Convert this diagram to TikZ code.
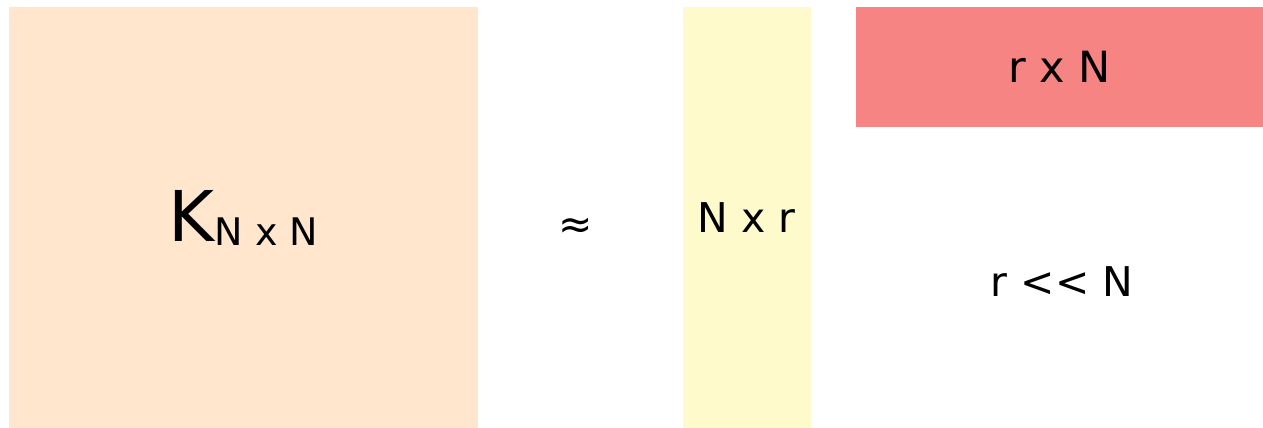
\documentclass[tikz,border=0pt]{standalone}
\usepackage{fontspec}
\setmainfont{DejaVu Sans}
\usepackage{tikz}
\usetikzlibrary{positioning}
\definecolor{peach}{HTML}{FFE6CC}
\definecolor{paleyellow}{HTML}{FFFACC}
\definecolor{salmon}{HTML}{F58482}
\newcommand{\bigtxt}{\fontsize{41}{41}\selectfont}

\begin{document}
\begin{tikzpicture}[x=1pt, y=-1pt]
\tikzstyle{matrixbox}=[rectangle, draw=none, inner sep=0pt, align=center]
\tikzstyle{label}=[inner sep=0pt, font=\bigtxt]
\useasboundingbox (0,0) rectangle (1263,428);
\node (K) [matrixbox, fill=peach, minimum width=469pt, minimum height=421pt] at (243.5,217.5)
  {\raisebox{-3pt}{\fontsize{70}{70}\selectfont K}\raisebox{-7pt}{\fontsize{38}{38}\selectfont N x N}};
\node (approx) [label] at (576,228) {≈};
\node (U) [matrixbox, fill=paleyellow, minimum width=128pt, minimum height=421pt, font=\bigtxt] at (746.5,217.5) {N x r};
\node (V) [matrixbox, fill=salmon, minimum width=407pt, minimum height=120pt, font=\fontsize{43}{43}\selectfont] at (1059.5,67) {r x N};
\node (cond) [label] at (1062,282) {r <\kern0pt< N};
\end{tikzpicture}
\end{document}
